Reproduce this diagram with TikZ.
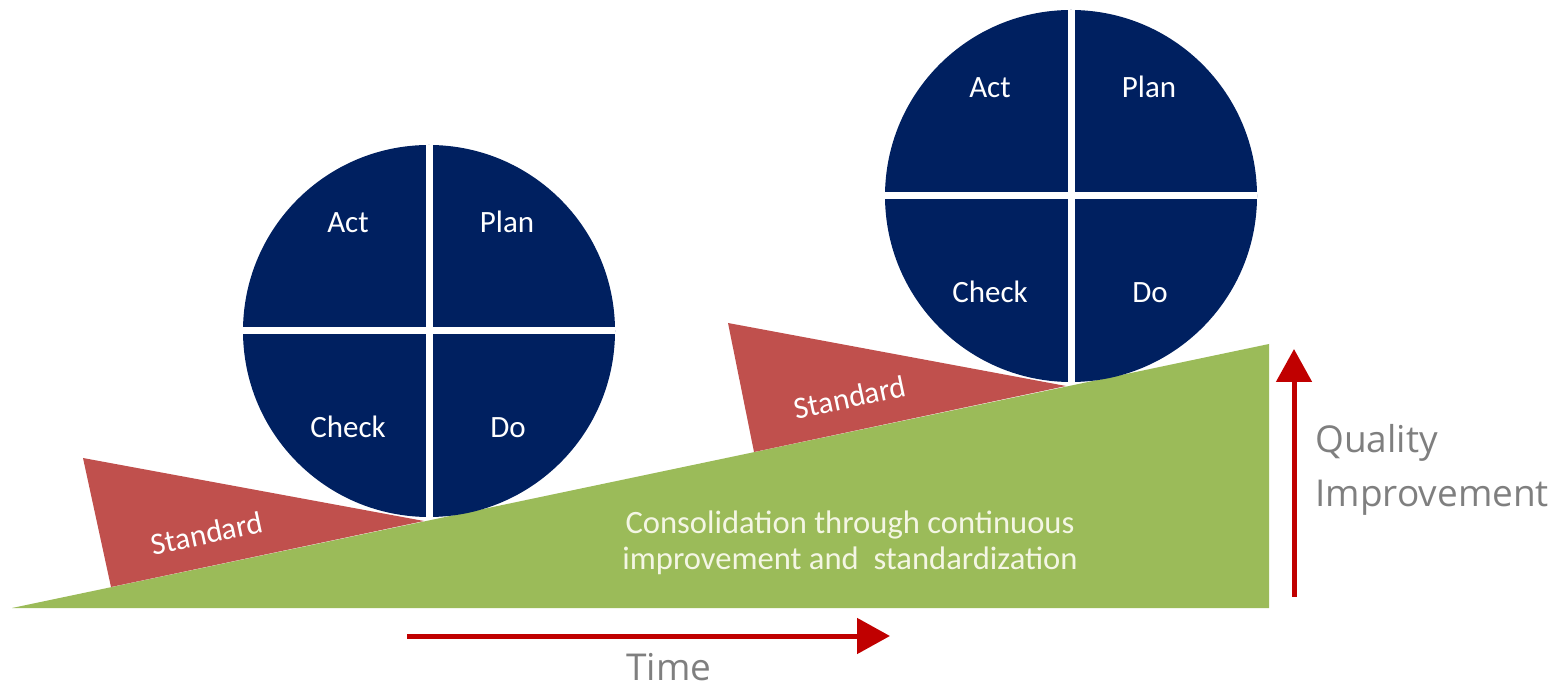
\documentclass[tikz,border=0pt]{standalone}
\usepackage{fontspec}
\setmainfont{Carlito}
\newfontfamily\axisfont{Open Sans}
\usetikzlibrary{arrows.meta}
\definecolor{navy}{HTML}{002060}
\definecolor{olive}{HTML}{9BBB59}
\definecolor{wedgered}{HTML}{C0504D}
\definecolor{arrowred}{HTML}{C00000}
\definecolor{axisgray}{HTML}{7F7F7F}
\definecolor{paletext}{HTML}{F4F6E4}
\tikzset{
  pdcacircle/.style={circle, fill=navy, minimum size=186pt, inner sep=0pt},
  divider/.style={draw=white, line width=3.5pt},
  pdcatext/.style={text=white, font=\fontsize{15.5}{18}\selectfont, anchor=base, inner sep=0pt},
  wedge/.style={fill=wedgered},
  stdlabel/.style={text=white, font=\fontsize{15.5}{18}\selectfont, inner sep=0pt, rotate=12},
  greentext/.style={text=paletext, font=\fontsize{16.3}{18}\selectfont, anchor=base, inner sep=0pt},
  axislabel/.style={text=axisgray, font=\axisfont\fontsize{18.5}{22}\selectfont, inner sep=0pt},
  axisarrow/.style={draw=arrowred, line width=2.5pt, -{Triangle[length=16.5pt, width=17.5pt]}}
}
\begin{document}
\begin{tikzpicture}[x=0.5pt, y=-0.5pt]
\useasboundingbox (0,0) rectangle (1567,688);

% green ramp
\fill[olive] (12,608) -- (1269,608) -- (1269,344) -- cycle;

% red wedges
\fill[wedge] (83,458) -- (111,587) -- (424,521) -- cycle;
\fill[wedge] (728,323) -- (754,452) -- (1066,386) -- cycle;

% left PDCA circle
\node[pdcacircle] (c1) at (429,331) {};
\draw[divider] (c1.north) -- (c1.south);
\draw[divider] (c1.west) -- (c1.east);
\node[pdcatext] (c1act) at (348,233) {Act};
\node[pdcatext] (c1plan) at (507,233) {Plan};
\node[pdcatext] (c1check) at (348,438) {Check};
\node[pdcatext] (c1do) at (508,438) {Do};

% right PDCA circle
\node[pdcacircle] (c2) at (1071,196) {};
\draw[divider] (c2.north) -- (c2.south);
\draw[divider] (c2.west) -- (c2.east);
\node[pdcatext] (c2act) at (990,98) {Act};
\node[pdcatext] (c2plan) at (1149,98) {Plan};
\node[pdcatext] (c2check) at (990,303) {Check};
\node[pdcatext] (c2do) at (1150,303) {Do};

% standard labels
\node[stdlabel] (std1) at (207,533) {Standard};
\node[stdlabel] (std2) at (850,397) {Standard};

% text on ramp
\node[greentext] (g1) at (850,534) {Consolidation through continuous};
\node[greentext] (g2) at (850,570) {improvement and\ \ standardization};

% time arrow
\coordinate (t0) at (407,636);
\coordinate (t1) at (890,636);
\draw[axisarrow] (t0) -- (t1);
\node[axislabel, anchor=base] (time) at (669,680) {Time};

% quality arrow
\coordinate (q0) at (1294,597);
\coordinate (q1) at (1294,349);
\draw[axisarrow] (q0) -- (q1);
\node[axislabel, anchor=base west] (qual1) at (1315,453) {Quality};
\node[axislabel, anchor=base west] (qual2) at (1315,507) {Improvement};
\end{tikzpicture}
\end{document}
